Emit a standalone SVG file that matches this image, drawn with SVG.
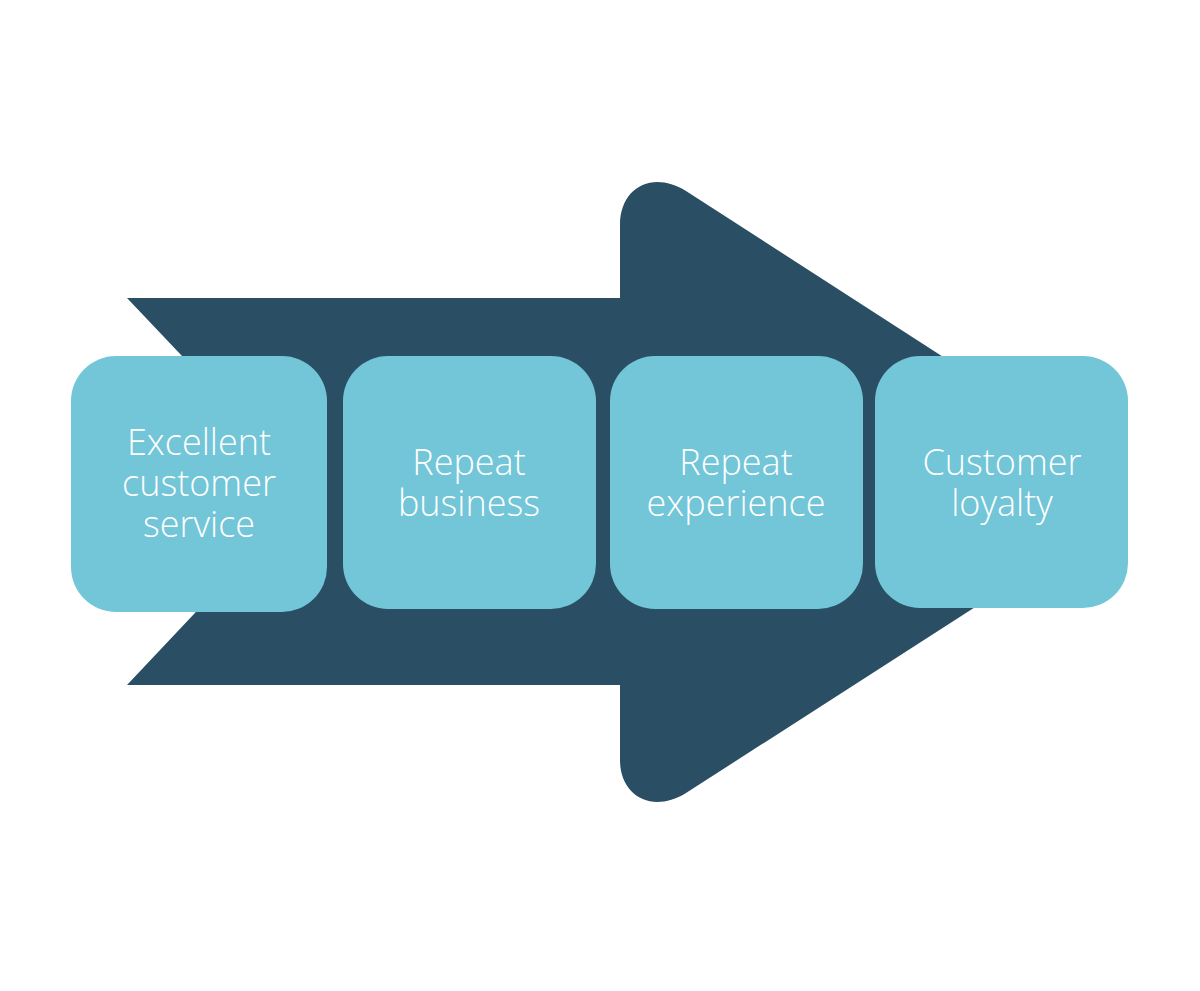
<svg xmlns="http://www.w3.org/2000/svg" width="1200" height="991" viewBox="0 0 1200 991">
<style>
.box{fill:#72C6D8}
.lbl{font-family:"Open Sans","Liberation Sans",sans-serif;font-weight:300;font-size:36px;fill:#ffffff;text-anchor:middle}
</style>
<rect width="1200" height="991" fill="#ffffff"/>
<g id="arrow">
<path fill="#2A4F65" d="M127,298 L620,298 L620,225 C620,188 652,170 686,191 L1120,471 L1120,514 L686,793 C652,814 620,796 620,760 L620,685 L127,685 L310,491 Z"/>
</g>
<g id="connectors"></g>
<g id="node1">
<rect class="box" x="71" y="356" width="256" height="256" rx="45"/>
<text class="lbl" x="199" y="455">Excellent</text>
<text class="lbl" x="199" y="496">customer</text>
<text class="lbl" x="199" y="537">service</text>
</g>
<g id="node2">
<rect class="box" x="343" y="356" width="253" height="253" rx="45"/>
<text class="lbl" x="469" y="475">Repeat</text>
<text class="lbl" x="469" y="516">business</text>
</g>
<g id="node3">
<rect class="box" x="610" y="356" width="253" height="253" rx="45"/>
<text class="lbl" x="736" y="475">Repeat</text>
<text class="lbl" x="736" y="516">experience</text>
</g>
<g id="node4">
<rect class="box" x="875" y="356" width="253" height="252" rx="45"/>
<text class="lbl" x="1002" y="475">Customer</text>
<text class="lbl" x="1002" y="516">loyalty</text>
</g>
</svg>
